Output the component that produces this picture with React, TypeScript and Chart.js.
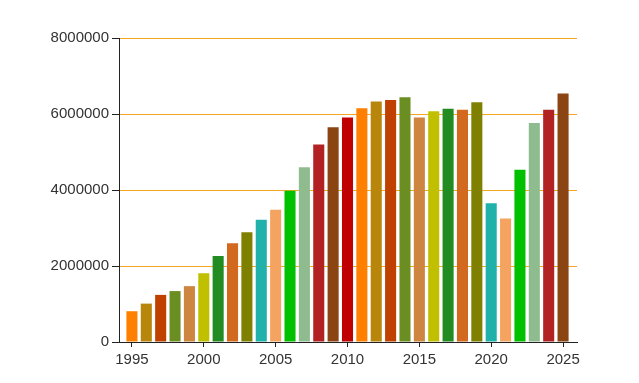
import React, { useEffect, useRef } from "react";
import { Chart, registerables } from "chart.js";

Chart.register(...registerables);

const years: number[] = [
  1995, 1996, 1997, 1998, 1999, 2000, 2001, 2002, 2003, 2004, 2005, 2006, 2007, 2008, 2009, 2010,
  2011, 2012, 2013, 2014, 2015, 2016, 2017, 2018, 2019, 2020, 2021, 2022, 2023, 2024, 2025,
];
const values: number[] = [
  810000, 1010000, 1240000, 1340000, 1470000, 1810000, 2260000, 2600000, 2890000, 3220000, 3480000,
  3980000, 4600000, 5200000, 5650000, 5910000, 6150000, 6330000, 6370000, 6440000, 5910000, 6070000,
  6140000, 6110000, 6310000, 3650000, 3250000, 4530000, 5760000, 6110000, 6540000,
];
const palette: string[] = [
  "#FF8000", "#B8860B", "#C04000", "#6B8E23", "#CD853F", "#C0C000", "#228B22", "#D2691E",
  "#808000", "#20B2AA", "#F4A460", "#00C000", "#8FBC8F", "#B22222", "#8B4513", "#C00000",
];
const xTicks: number[] = [1995, 2000, 2005, 2010, 2015, 2020, 2025];
const yTicks: number[] = [0, 2000000, 4000000, 6000000, 8000000];

export default function App() {
  const ref = useRef<HTMLCanvasElement>(null);
  useEffect(() => {
    document.body.style.margin = "0";
    const ctx = ref.current!;
    const font = { family: "'Liberation Sans', Arial, sans-serif", size: 15 };
    const chart = new Chart(ctx, {
      type: "bar",
      data: {
        datasets: [
          {
            data: years.map((y, i) => ({ x: y, y: values[i] })),
            backgroundColor: years.map((_, i) => palette[i % palette.length]),
            borderWidth: 0,
            barPercentage: 0.77,
            categoryPercentage: 1,
          },
        ],
      },
      options: {
        animation: false,
        responsive: false,
        maintainAspectRatio: false,
        layout: { padding: { left: 0, top: 38, right: 62, bottom: 0 } },
        plugins: { legend: { display: false }, tooltip: { enabled: false } },
        scales: {
          x: {
            type: "linear",
            offset: false,
            min: 1994.1,
            max: 2025.97,
            afterBuildTicks: (axis: any) => {
              axis.ticks = xTicks.map((v) => ({ value: v }));
            },
            afterFit: (scale: any) => {
              scale.height = 41;
            },
            grid: {
              display: true,
              offset: false,
              drawOnChartArea: false,
              drawTicks: true,
              tickLength: 5,
              tickColor: "#222",
              lineWidth: 1,
            },
            border: { display: true, color: "#222", width: 1 },
            ticks: {
              color: "#333",
              font,
              padding: 4,
              autoSkip: false,
              maxRotation: 0,
              callback: (v: any) => String(v),
            },
          },
          y: {
            min: 0,
            max: 8000000,
            afterBuildTicks: (axis: any) => {
              axis.ticks = yTicks.map((v) => ({ value: v }));
            },
            afterFit: (scale: any) => {
              scale.width = 119;
            },
            grid: {
              color: "#F5A623",
              lineWidth: 1,
              drawTicks: true,
              tickLength: 7,
              tickColor: "#222",
            },
            border: { display: true, color: "#222", width: 1 },
            ticks: {
              color: "#333",
              font,
              padding: 3,
              callback: (v: any) => String(v),
            },
          },
        },
      },
    } as any);
    return () => chart.destroy();
  }, []);
  return (
    <div style={{ width: 639, height: 383, background: "#fff" }}>
      <canvas ref={ref} width={639} height={383} style={{ display: "block" }} />
    </div>
  );
}
